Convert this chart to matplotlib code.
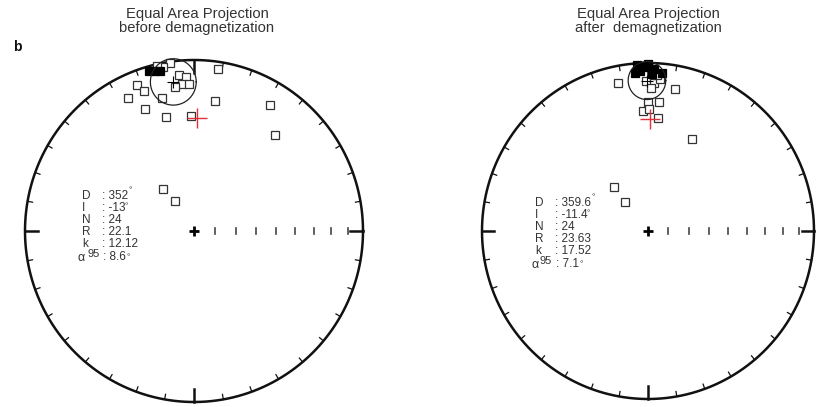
import numpy as np
import matplotlib.pyplot as plt

plt.rcParams['font.family'] = ['Liberation Sans', 'DejaVu Sans']

W, H = 817, 407

# site directions, declination / inclination in degrees (negative = upper hemisphere)
before_dec = [351.8, 349.2, 347.4, 8.5, 354.4, 357.0, 355.3, 358.0, 352.4, 338.4,
              340.0, 333.4, 346.3, 9.2, 338.0, 346.0, 358.5, 31.5, 40.4, 323.0,
              327.0, 344.0, 346.0, 348.0]
before_inc = [-1, -3, -1, -5, -9, -11, -15, -15, -16, -9,
              -14, -14, -21, -24, -24, -32, -33, -15, -27, -65,
              -73, 3, 4, 5]

after_dec = [0.0, 356.2, 357.1, 358.9, 1.5, 5.1, 355.3, 2.1, 348.5, 359.2,
             2.3, 10.8, 4.5, 0.0, 4.9, 357.6, 0.5, 5.1, 26.1, 322.3,
             321.6, 356.5, 3.3, 1.2]
after_inc = [1, 1, 5, 3, 7, 6, 6, 4, -11, -12,
             -13, -15, -10, -24, -24, -29, -28, -33, -39, -63,
             -72, -3, -8, -16]

# Fisher statistics
before_stats = {'D': 352, 'I': -13, 'N': 24, 'R': 22.1, 'k': 12.12, 'a95': 8.6}
after_stats = {'D': 359.6, 'I': -11.4, 'N': 24, 'R': 23.63, 'k': 17.52, 'a95': 7.1}

# reference field direction
field_dec = [1.5, 1.0]
field_inc = [34, 34]

titles = [('Equal Area Projection', 'before demagnetization'),
          ('Equal Area Projection', 'after  demagnetization')]

INK = '#333333'


def px(x, y):
    return x / W, 1 - y / H


def eqarea(dec, inc):
    dec = np.radians(np.asarray(dec, float))
    inc = np.abs(np.asarray(inc, float))
    r = np.sqrt(2) * np.sin(np.radians(90 - inc) / 2)
    return r * np.sin(dec), r * np.cos(dec)


def a95_circle(dec, inc, a95, n=200):
    # confidence circle drawn round the mean, scaled like the net along the rim
    mx, my = eqarea(dec, inc)
    r = np.hypot(mx, my)
    rad = np.radians(a95) * r / np.cos(np.radians(inc))
    t = np.linspace(0, 2 * np.pi, n)
    return mx + rad * np.cos(t), my + rad * np.sin(t)


def draw_net(ax):
    t = np.linspace(0, 2 * np.pi, 400)
    ax.plot(np.cos(t), np.sin(t), color='#111111', lw=1.8, clip_on=False)
    for az in range(0, 360, 10):
        a = np.radians(az)
        L = 0.075 if az % 90 == 0 else 0.03
        lw = 1.8 if az % 90 == 0 else 0.9
        ax.plot([np.sin(a), (1 - L) * np.sin(a)], [np.cos(a), (1 - L) * np.cos(a)],
                color='#111111', lw=lw, clip_on=False)
    # inclination ticks along the east radius
    for inc in range(10, 90, 10):
        x, _ = eqarea(90, inc)
        ax.plot([x, x], [-0.018, 0.018], color='#444444', lw=1.2)
    ax.plot(0, 0, marker='+', ms=7, mew=2, color='black')


def degree(ax, t, yfrac, dx):
    ax.annotate('°', xy=(1.0, yfrac), xycoords=t, xytext=(dx, 0),
                textcoords='offset points', fontsize=6, color=INK,
                ha='left', va='center', annotation_clip=False)


fig = plt.figure(figsize=(W / 100, H / 100), dpi=100)

nets = [(194, 231, 169, 171), (648, 231, 166, 168)]
data = [(before_dec, before_inc, before_stats), (after_dec, after_inc, after_stats)]

for k, ((cx, cy, rx, ry), (dec, inc, st)) in enumerate(zip(nets, data)):
    ax = fig.add_axes([(cx - rx) / W, (H - cy - ry) / H, 2 * rx / W, 2 * ry / H])
    ax.set_xlim(-1, 1)
    ax.set_ylim(-1, 1)
    ax.axis('off')
    draw_net(ax)

    dec = np.array(dec)
    inc = np.array(inc)
    up = inc < 0
    x, y = eqarea(dec[up], inc[up])
    ax.plot(x, y, 's', ms=6, mfc='white', mec=INK, mew=0.9, ls='none', clip_on=False)
    x, y = eqarea(dec[~up], inc[~up])
    ax.plot(x, y, 's', ms=6, mfc='black', mec='black', mew=0.9, ls='none', clip_on=False)

    # mean direction with its cone of confidence
    mx, my = eqarea(st['D'], st['I'])
    ax.plot(mx, my, marker='+', ms=8, mew=0.8, color='black')
    cxs, cys = a95_circle(st['D'], st['I'], st['a95'])
    ax.plot(cxs, cys, color='#222222', lw=0.9, clip_on=False)

    fx, fy = eqarea(field_dec[k], field_inc[k])
    ax.plot(fx, fy, marker='+', ms=14, mew=1.0, color='#e0303a')

    # titles
    tx = [197, 648][k]
    fig.text(*px(tx, 14), titles[k][0], ha='center', va='center', fontsize=10.6, color=INK)
    fig.text(*px(tx, 28), titles[k][1], ha='center', va='center', fontsize=10.6, color=INK)

    # statistics block
    lx, colx, y0 = [(82, 102, 196), (535, 555, 203)][k]
    rows = [('D', st['D']), ('I', st['I']), ('N', st['N']),
            ('R', st['R']), ('k', st['k'])]
    for j, (lab, val) in enumerate(rows):
        yy = y0 + 12 * j
        fig.text(*px(lx, yy), lab, ha='left', va='center', fontsize=8.5, color=INK)
        t = fig.text(*px(colx, yy), ': ' + str(val), ha='left', va='center',
                     fontsize=8.5, color=INK)
        if lab == 'D':
            degree(ax, t, 0.95, 0.5)
        if lab == 'I':
            degree(ax, t, 0.6, -1)
    ya = y0 + 12 * 5 + 1
    fig.text(*px(lx - 4, ya + 1), 'α', ha='left', va='center', fontsize=9, color=INK)
    fig.text(*px(lx + 5, ya - 3), '95', ha='left', va='center', fontsize=8, color=INK)
    t = fig.text(*px(colx + 1, ya), ': ' + str(st['a95']), ha='left', va='center',
                 fontsize=8.5, color=INK)
    degree(ax, t, 0.45, 0.5)

fig.text(*px(13, 47), 'b', ha='left', va='center', fontsize=10, fontweight='bold',
         color='#111111')

fig.savefig('out.png', dpi=100)
